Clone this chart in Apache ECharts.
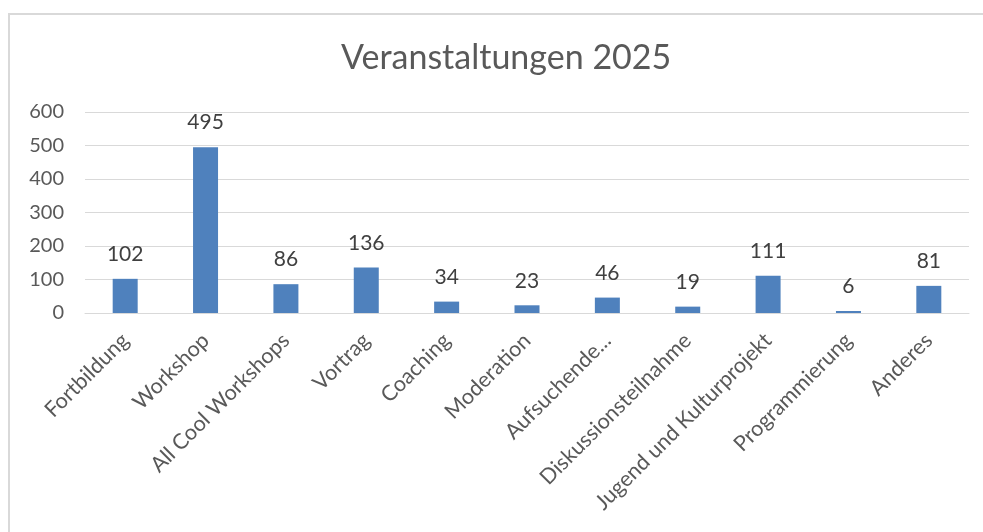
<!DOCTYPE html>
<html>
<head>
<meta charset="utf-8">
<script src="https://cdn.jsdelivr.net/npm/echarts@6/dist/echarts.min.js"></script>
<style>
  html, body { margin: 0; padding: 0; background: #fff; overflow: hidden; }
  .frame {
    position: absolute; left: 8px; top: 13px; width: 1000px; height: 560px;
    border: 2px solid #d9d9d9; box-sizing: border-box;
  }
  #chart { position: absolute; left: 0; top: 0; width: 983px; height: 532px; }
</style>
</head>
<body>
<div class="frame"></div>
<div id="chart"></div>
<script>
// Kategorien und Werte
const categories = [
  'Fortbildung', 'Workshop', 'All Cool Workshops', 'Vortrag', 'Coaching',
  'Moderation', 'Aufsuchende...', 'Diskussionsteilnahme',
  'Jugend und Kulturprojekt', 'Programmierung', 'Anderes'
]
const values = [102, 495, 86, 136, 34, 23, 46, 19, 111, 6, 81]
const yTicks = [0, 100, 200, 300, 400, 500, 600]

const fontFamily = 'Lato, "Open Sans", sans-serif'

const myChart = echarts.init(document.getElementById('chart'))
const option = {
  animation: false,
  title: {
    text: 'Veranstaltungen 2025',
    left: 336,
    top: 36,
    textStyle: { color: '#595959', fontSize: 34, fontWeight: 'normal', fontFamily: fontFamily }
  },
  grid: { left: 85, right: 14, top: 112, bottom: 219 },
  xAxis: {
    type: 'category',
    data: categories,
    axisLine: { lineStyle: { color: '#d9d9d9', width: 1 } },
    axisTick: { show: false },
    axisLabel: {
      interval: 0,
      rotate: 45, // schräge Beschriftung
      margin: 24,
      color: '#595959',
      fontSize: 21.5,
      fontFamily: fontFamily
    }
  },
  yAxis: {
    type: 'value',
    min: yTicks[0],
    max: yTicks[yTicks.length - 1],
    interval: 100,
    axisLine: { show: false },
    axisTick: { show: false },
    splitLine: { lineStyle: { color: '#d9d9d9', width: 1 } },
    axisLabel: { margin: 21, color: '#595959', fontSize: 20, fontFamily: fontFamily }
  },
  series: [
    {
      type: 'bar',
      data: values,
      barWidth: 25,
      itemStyle: { color: '#4f81bd' },
      label: {
        show: true,
        position: 'top',
        distance: 14,
        color: '#404040',
        fontSize: 21,
        fontFamily: fontFamily
      }
    }
  ]
}
myChart.setOption(option)
</script>
</body>
</html>
